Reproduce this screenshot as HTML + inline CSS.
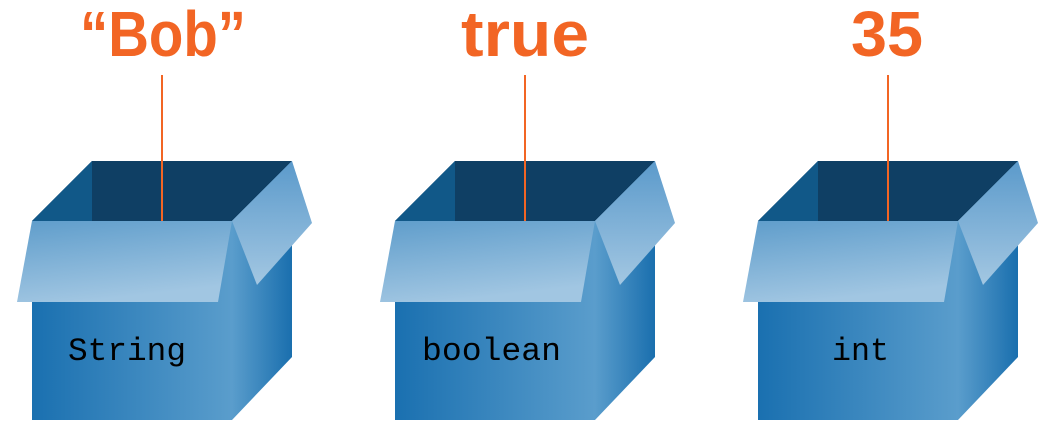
<!DOCTYPE html>
<html><head><style>body{margin:0;background:#fff}svg{display:block}</style></head><body>
<svg width="1052" height="436" viewBox="0 0 1052 436" xmlns="http://www.w3.org/2000/svg">
<defs>
<linearGradient id="front" x1="0" y1="0" x2="1" y2="0">
<stop offset="0" stop-color="#1a70b0"/><stop offset="1" stop-color="#5a9dcc"/></linearGradient>
<linearGradient id="side" x1="0" y1="0" x2="1" y2="0">
<stop offset="0" stop-color="#5a9dcc"/><stop offset="1" stop-color="#1a6fae"/></linearGradient>
<linearGradient id="flap" x1="0" y1="0" x2="0.3" y2="1">
<stop offset="0" stop-color="#5f9dcb"/><stop offset="1" stop-color="#a1c6e2"/></linearGradient>
<linearGradient id="rflap" x1="0" y1="0" x2="0" y2="1">
<stop offset="0" stop-color="#5b9acb"/><stop offset="1" stop-color="#a3c7e2"/></linearGradient>
<g id="box">
<polygon points="32,221 92,161 292,161 232,221" fill="#0f3f64"/>
<polygon points="32,221 92,161 92,221" fill="#115888"/>
<polygon points="232,221 292,161 292,357 232,420" fill="url(#side)"/>
<rect x="32" y="221" width="200" height="199" fill="url(#front)"/>
<polygon points="32,221 232,221 218,302 17,302" fill="url(#flap)"/>
<polygon points="232,221 292,161 312,223 257,285" fill="url(#rflap)"/>
</g>
</defs>
<g font-family="Liberation Sans, sans-serif" font-weight="bold" font-size="64" fill="#f26524" text-anchor="middle">
<text x="163" y="56" textLength="166" lengthAdjust="spacingAndGlyphs">“Bob”</text>
<text x="525" y="56" textLength="128" lengthAdjust="spacingAndGlyphs">true</text>
<text x="887" y="56" textLength="72" lengthAdjust="spacingAndGlyphs">35</text>
</g>
<use href="#box"/>
<use href="#box" x="363"/>
<use href="#box" x="726"/>
<g stroke="#f26524" stroke-width="2">
<line x1="162" y1="75" x2="162" y2="221"/>
<line x1="525" y1="75" x2="525" y2="221"/>
<line x1="888" y1="75" x2="888" y2="221"/>
</g>
<g font-family="Liberation Mono, monospace" font-size="32" fill="#000">
<text x="68" y="360" textLength="118" lengthAdjust="spacingAndGlyphs">String</text>
<text x="422" y="360" textLength="139" lengthAdjust="spacingAndGlyphs">boolean</text>
<text x="832" y="360" textLength="57" lengthAdjust="spacingAndGlyphs">int</text>
</g>
</svg>
</body></html>
